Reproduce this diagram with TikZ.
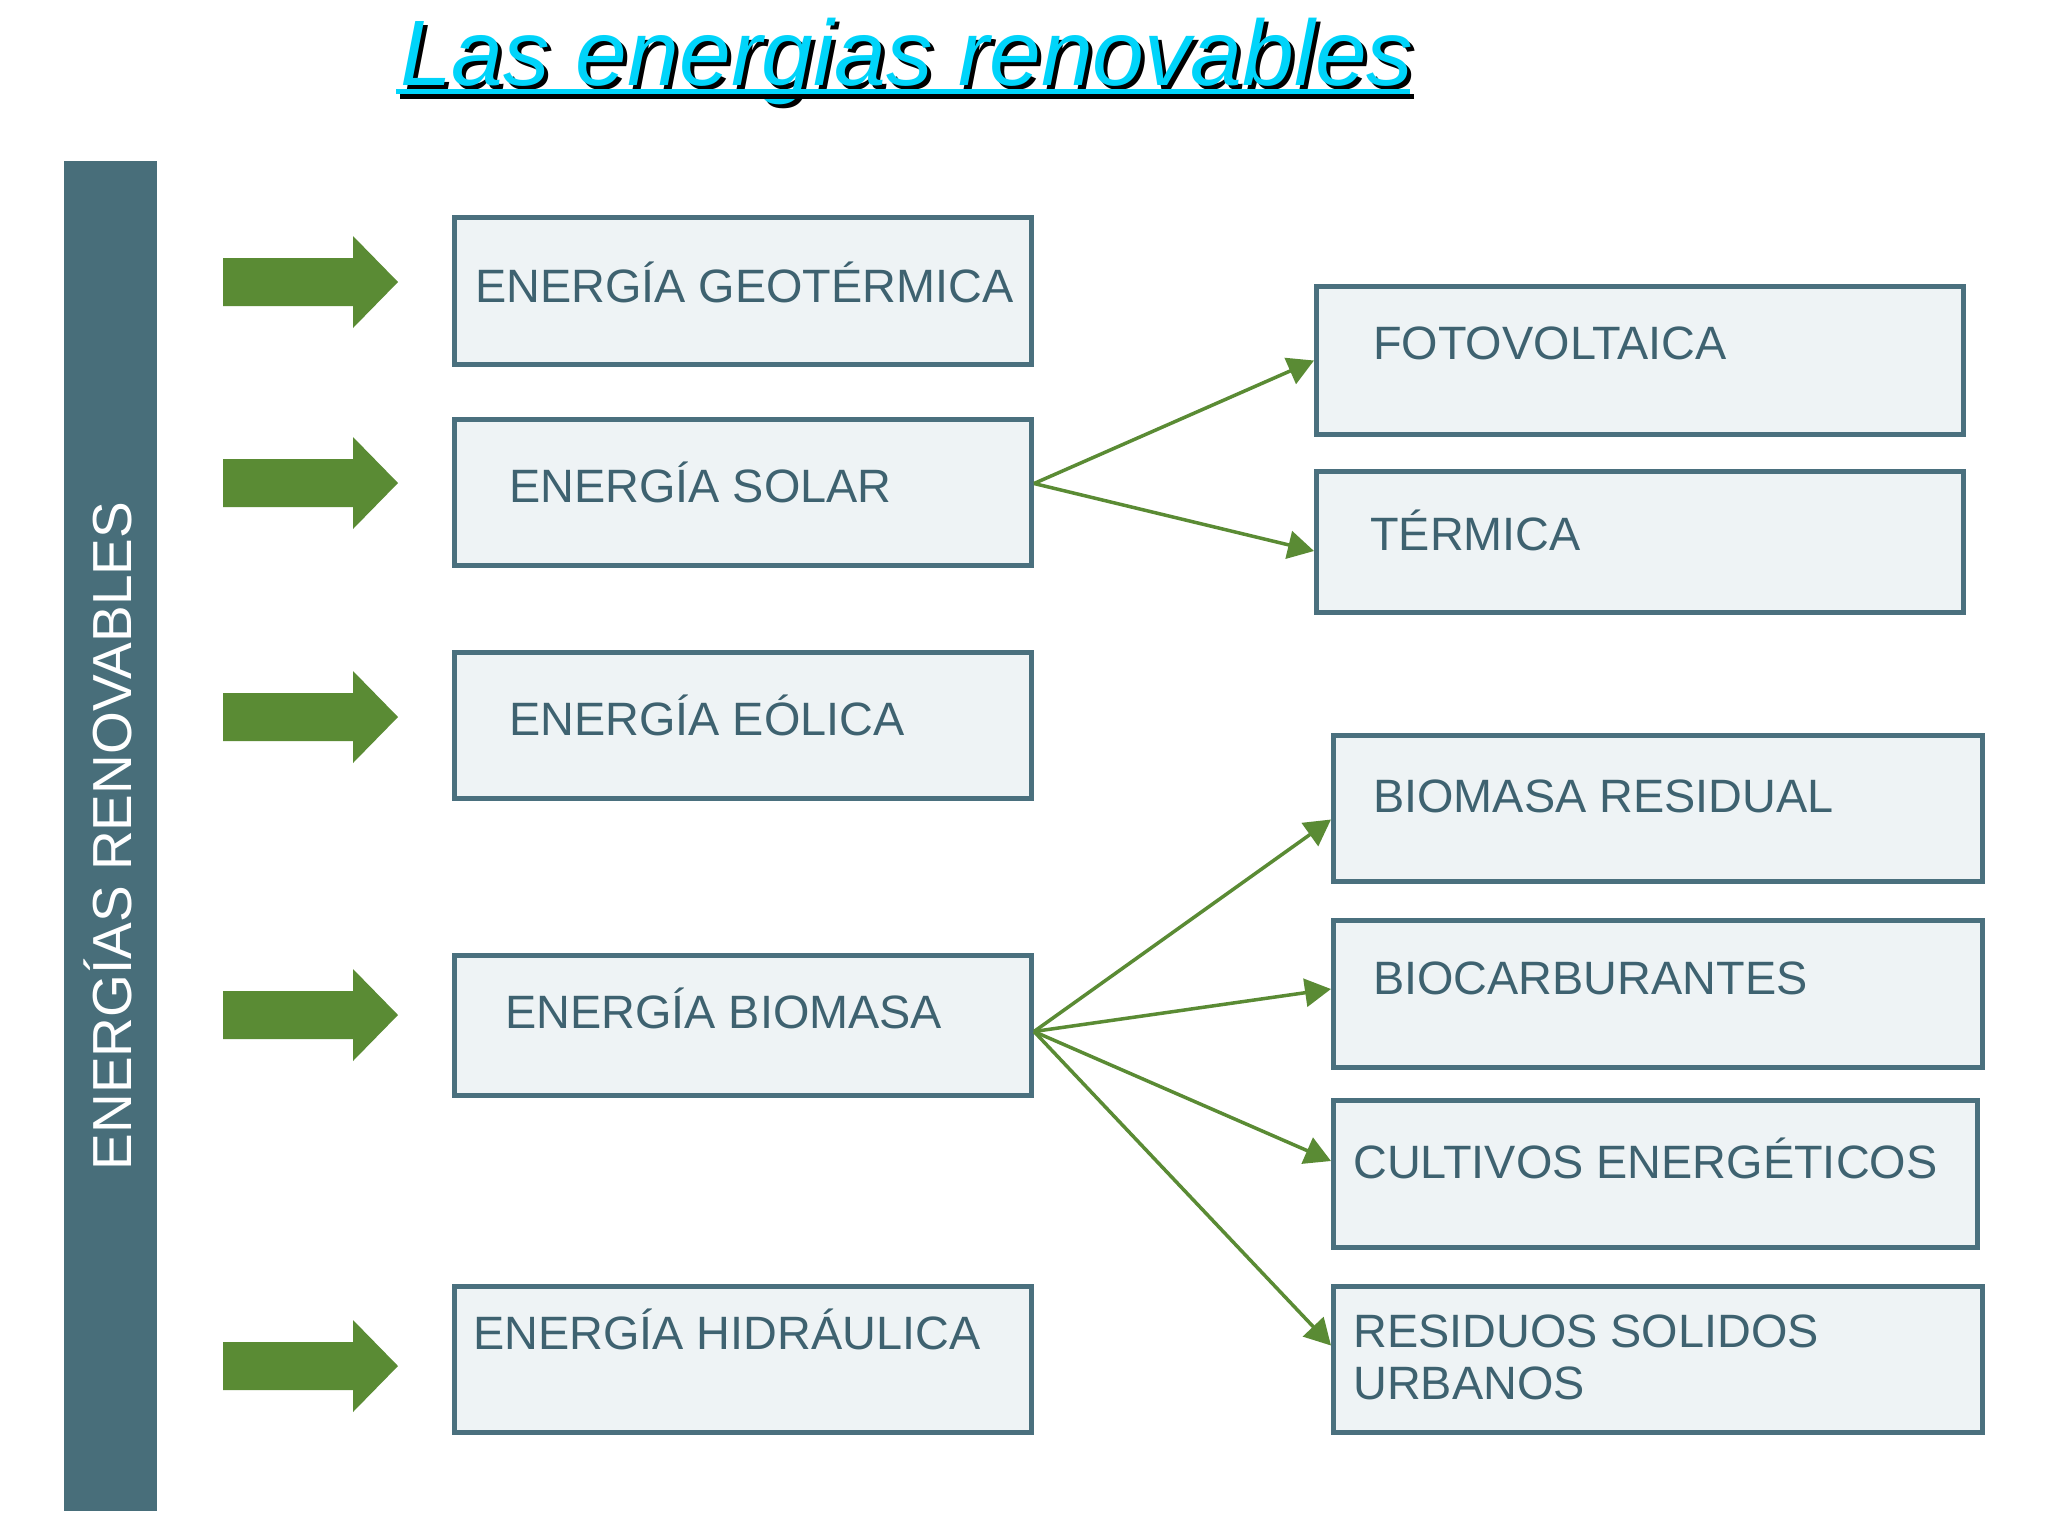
\documentclass[tikz,border=0pt]{standalone}
\usepackage{fontspec}
\setmainfont{Liberation Sans}
\usetikzlibrary{arrows.meta}
\definecolor{sidec}{RGB}{72,110,122}
\definecolor{bordc}{RGB}{74,112,126}
\definecolor{fillc}{RGB}{238,243,245}
\definecolor{txtc}{RGB}{62,98,112}
\definecolor{grn}{RGB}{90,139,52}
\definecolor{cyanc}{RGB}{0,212,250}
\tikzset{
  ebox/.style={draw=bordc, fill=fillc, line width=5pt, inner sep=0pt},
  etext/.style={text=txtc, inner sep=0pt, anchor=base west, font=\fontsize{46.8}{52}\selectfont},
  conn/.style={draw=grn, line width=3.5pt, -{Triangle[length=26pt,width=28pt]}},
  blockarrow/.style={fill=grn}
}
\begin{document}
\begin{tikzpicture}[x=1pt,y=-1pt]
\useasboundingbox (0,0) rectangle (2048,1535);
\fill[white] (0,0) rectangle (2048,1535);

% title
\node[anchor=base west, inner sep=0pt, text=black, font=\fontsize{93}{100}\selectfont\itshape] (titleshadow) at (404,89) {Las energias renovables};
\node[anchor=base west, inner sep=0pt, text=cyanc, font=\fontsize{93}{100}\selectfont\itshape] (title) at (400,85) {Las energias renovables};
\draw[black, line width=5pt] (400,96) -- (1414,96);
\draw[cyanc, line width=5pt] (396,91) -- (1410,91);

% sidebar
\fill[sidec] (64,161) rectangle (157,1511);
\node[anchor=base, inner sep=0pt, rotate=90, text=white, font=\fontsize{55}{60}\selectfont] (side) at (131,836) {ENERGÍAS RENOVABLES};

% block arrows
\foreach \c in {282,483,717,1015,1366}{
  \fill[blockarrow] (223,\c-24) -- (353,\c-24) -- (353,\c-46) -- (398,\c) -- (353,\c+46) -- (353,\c+24) -- (223,\c+24) -- cycle;
}

% left boxes
\node[ebox, minimum width=577pt, minimum height=147pt] (geo) at (743,291) {};
\node[ebox, minimum width=577pt, minimum height=146pt] (solar) at (743,492.5) {};
\node[ebox, minimum width=577pt, minimum height=146pt] (eolica) at (743,725.5) {};
\node[ebox, minimum width=577pt, minimum height=140pt] (biomasa) at (743,1025.5) {};
\node[ebox, minimum width=577pt, minimum height=146pt] (hidra) at (743,1359.5) {};

% right boxes
\node[ebox, minimum width=647pt, minimum height=148pt] (foto) at (1640,360.5) {};
\node[ebox, minimum width=647pt, minimum height=141pt] (termica) at (1640,542) {};
\node[ebox, minimum width=649pt, minimum height=146pt] (resid) at (1658,808.5) {};
\node[ebox, minimum width=649pt, minimum height=147pt] (biocarb) at (1658,994) {};
\node[ebox, minimum width=644pt, minimum height=147pt] (cultivos) at (1655.5,1174) {};
\node[ebox, minimum width=649pt, minimum height=146pt] (rsu) at (1658,1359.5) {};

% texts
\node[etext] (geoT) at (475,302) {ENERGÍA GEOTÉRMICA};
\node[etext] (solarT) at (509,502) {ENERGÍA SOLAR};
\node[etext] (eolicaT) at (509,735) {ENERGÍA EÓLICA};
\node[etext] (biomasaT) at (505,1028) {ENERGÍA BIOMASA};
\node[etext] (hidraT) at (473,1349) {ENERGÍA HIDRÁULICA};
\node[etext] (fotoT) at (1373,359) {FOTOVOLTAICA};
\node[etext] (termicaT) at (1370,550) {TÉRMICA};
\node[etext] (residT) at (1373,812) {BIOMASA RESIDUAL};
\node[etext] (biocarbT) at (1373,994) {BIOCARBURANTES};
\node[etext] (cultivosT) at (1353,1178) {CULTIVOS ENERGÉTICOS};
\node[etext, anchor=north west, align=left] (rsuT) at (1353,1315) {RESIDUOS SOLIDOS\\URBANOS};

% connectors
\draw[conn] ([yshift=9pt]solar.east) -- (foto.west);
\draw[conn] ([yshift=9pt]solar.east) -- ([yshift=-9pt]termica.west);
\draw[conn] ([yshift=-6pt]biomasa.east) -- ([yshift=-11pt]resid.west);
\draw[conn] ([yshift=-6pt]biomasa.east) -- ([yshift=5pt]biocarb.west);
\draw[conn] ([yshift=-6pt]biomasa.east) -- ([yshift=13pt]cultivos.west);
\draw[conn] ([yshift=-6pt]biomasa.east) -- ([yshift=14pt]rsu.west);
\end{tikzpicture}
\end{document}
